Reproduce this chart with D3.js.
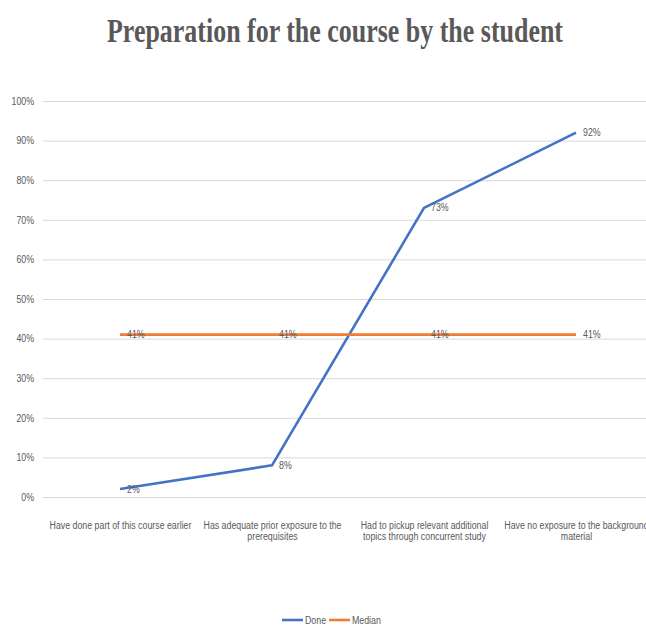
<!DOCTYPE html>
<html><head><meta charset="utf-8">
<script src="https://cdn.jsdelivr.net/npm/d3@7"></script>
<style>
html,body{margin:0;padding:0;background:#fff;}
svg{display:block;}
text{font-family:"Liberation Sans","Arial",sans-serif;fill:#595959;}
</style></head>
<body>
<svg id="chart" width="646" height="629"></svg>
<script>
const categories = [
  "Have done part of this course earlier",
  "Has adequate prior exposure to the prerequisites",
  "Had to pickup relevant additional topics through concurrent study",
  "Have no exposure to the background material"
];
const doneValues = [0.02, 0.08, 0.73, 0.92];
const medianValues = [0.41, 0.41, 0.41, 0.41];
const yTicks = [0, 0.1, 0.2, 0.3, 0.4, 0.5, 0.6, 0.7, 0.8, 0.9, 1.0];
const seriesNames = ["Done", "Median"];
const seriesColors = ["#4472C4", "#ED7D31"];
const titleText = "Preparation for the course by the student";

const COND = 0.88;
function condense(node) {
  const len = node.getComputedTextLength();
  d3.select(node).attr("textLength", len * COND).attr("lengthAdjust", "spacingAndGlyphs");
}

const svg = d3.select("#chart");
const x = d3.scalePoint().domain(categories).range([44, 652]).padding(0.5);
const y = d3.scaleLinear().domain([0, 1]).range([497, 101]);
const fmt = d3.format(".0%");

// title
svg.append("text")
  .attr("x", 335).attr("y", 42)
  .attr("text-anchor", "middle")
  .attr("textLength", 456).attr("lengthAdjust", "spacingAndGlyphs")
  .style("font-family", "'Liberation Serif','Times New Roman',serif")
  .style("font-weight", "bold").style("font-size", "33px").style("fill", "#595959")
  .text(titleText);

// gridlines + y labels
const yAxis = d3.axisLeft(y).tickValues(yTicks).tickFormat(fmt).tickSize(-(646 - 43)).tickPadding(9);
const gy = svg.append("g").attr("transform", "translate(43,0)").call(yAxis);
gy.select(".domain").remove();
gy.selectAll(".tick line").attr("stroke", "#d9d9d9").attr("stroke-width", 1);
gy.selectAll(".tick text").style("font-size", "10px").style("font-family", "'Liberation Sans',Arial,sans-serif").style("fill", "#595959")
  .each(function() { condense(this); });

// x labels
const xAxis = d3.axisBottom(x).tickSize(0).tickPadding(0);
const gx = svg.append("g").attr("transform", "translate(0,497)").call(xAxis);
gx.select(".domain").remove();
gx.selectAll(".tick text").style("font-size", "10px").style("font-family", "'Liberation Sans',Arial,sans-serif").style("fill", "#595959")
  .each(function(d) {
    const t = d3.select(this);
    const words = d.split(" ");
    t.text(null);
    let line = [];
    let lineNo = 0;
    let tspan = t.append("tspan").attr("x", 0).attr("y", 25);
    for (const w of words) {
      line.push(w);
      tspan.text(line.join(" "));
      if (tspan.node().getComputedTextLength() * COND > 150 && line.length > 1) {
        line.pop();
        tspan.text(line.join(" "));
        line = [w];
        lineNo++;
        tspan = t.append("tspan").attr("x", 0).attr("y", 25 + lineNo * 18).text(w);
      }
    }
    t.selectAll("tspan").each(function() { condense(this); });
  });

// lines
const lineGen = d3.line().x((d, i) => x(categories[i])).y(d => y(d));
const allSeries = [doneValues, medianValues];
allSeries.forEach((vals, si) => {
  svg.append("path").datum(vals)
    .attr("d", lineGen)
    .attr("fill", "none")
    .attr("stroke", seriesColors[si])
    .attr("stroke-width", 2.6)
    .attr("stroke-linejoin", "round");
});
// data labels
allSeries.forEach((vals, si) => {
  svg.selectAll(null).data(vals).enter().append("text")
    .attr("x", (d, i) => x(categories[i]) + 7)
    .attr("y", d => y(d) + 3.5)
    .style("font-size", "10px").style("fill", "#595959")
    .text(d => fmt(d))
    .each(function() { condense(this); });
});

// legend
const legendX = [282, 329];
seriesNames.forEach((n, i) => {
  const g = svg.append("g").attr("transform", `translate(${legendX[i]},620)`);
  g.append("line").attr("x1", 0).attr("x2", 21).attr("y1", 0).attr("y2", 0)
    .attr("stroke", seriesColors[i]).attr("stroke-width", 2.6);
  g.append("text").attr("x", 23).attr("y", 3.5).style("font-size", "10px").text(n)
    .each(function() { condense(this); });
});
</script>
</body></html>
